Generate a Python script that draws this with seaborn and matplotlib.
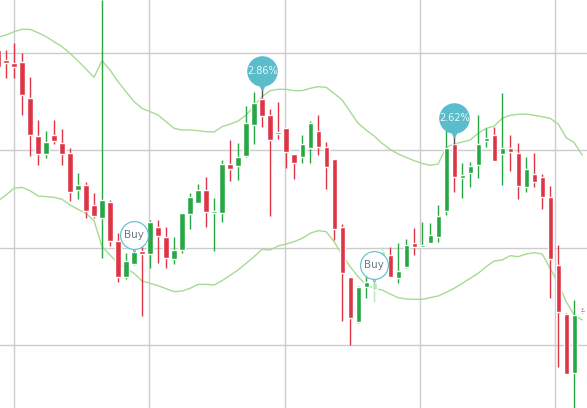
import matplotlib
matplotlib.use("Agg")
import matplotlib.pyplot as plt
import matplotlib.transforms as mtransforms
import seaborn as sns
import numpy as np
import pandas as pd

# values (screen-y of a 3x zoom), turned into prices below
opens = [150, 180, 190, 186, 295, 407, 461, 405, 430, 458, 569, 555, 615, 654, 606, 722, 831, 793, 752, 762, 682, 710, 777, 750, 642, 608,
         570, 638, 640, 493, 498, 468, 375, 297, 345, 397, 385, 463, 472, 443, 393, 441, 478, 682, 832, 965, 862, 870, 795, 765,
         833, 800, 730, 742, 730, 712, 632, 432, 535, 518, 496, 422, 405, 463, 445, 458, 562, 522, 532, 590, 795, 942, 1120, 930]
closes = [200, 188, 200, 284, 405, 463, 426, 423, 461, 575, 555, 634, 647, 600, 724, 832, 783, 755, 762, 665, 707, 775, 750, 638, 590, 570,
          636, 633, 492, 506, 472, 368, 310, 347, 421, 403, 457, 488, 432, 368, 440, 500, 687, 818, 953, 861, 845, 845, 752, 832,
          813, 735, 740, 735, 706, 648, 445, 530, 525, 498, 432, 415, 482, 443, 455, 557, 508, 545, 592, 778, 937, 1123, 945, 936]
highs = [140, 150, 128, 158, 232, 360, 393, 360, 387, 444, 519, 546, 580, 0, 600, 700, 758, 748, 742, 660, 660, 680, 712, 638, 578, 552,
         530, 595, 480, 420, 430, 318, 276, 290, 326, 306, 385, 462, 405, 362, 345, 425, 478, 672, 832, 858, 826, 780, 740, 740,
         730, 716, 685, 665, 670, 615, 320, 432, 490, 487, 346, 385, 380, 280, 405, 428, 472, 460, 522, 558, 735, 940, 900, 925]
lows = [207, 235, 233, 346, 468, 495, 474, 433, 496, 603, 596, 655, 655, 773, 738, 845, 838, 795, 948, 805, 790, 803, 792, 760, 687, 608,
        680, 752, 665, 542, 540, 472, 433, 382, 648, 418, 505, 538, 488, 488, 466, 568, 720, 962, 1036, 968, 895, 905, 800, 832,
        850, 803, 765, 742, 730, 727, 645, 575, 595, 560, 535, 442, 482, 555, 512, 597, 575, 560, 627, 895, 1100, 1123, 1224, 940]
upper = [112, 105, 95, 88, 88, 98, 110, 125, 140, 160, 183, 207, 232, 182, 210, 245, 275, 305, 325, 335, 345, 365, 385, 390, 390, 392,
         395, 396, 380, 372, 363, 345, 318, 290, 272, 268, 268, 272, 272, 265, 260, 262, 280, 300, 335, 370, 390, 408, 430, 448,
         462, 472, 482, 490, 496, 492, 442, 432, 426, 420, 400, 385, 378, 355, 346, 343, 342, 346, 350, 355, 372, 413, 428, 465]
lower = [603, 585, 565, 562, 572, 588, 590, 592, 598, 615, 628, 640, 662, 740, 765, 790, 805, 820, 843, 850, 857, 866, 875, 873, 865, 853,
         853, 855, 842, 826, 810, 790, 770, 748, 750, 738, 732, 725, 715, 700, 692, 695, 725, 765, 800, 830, 855, 865, 870, 882,
         893, 897, 898, 898, 893, 888, 877, 865, 850, 835, 820, 800, 783, 780, 767, 770, 762, 758, 762, 805, 850, 905, 945, 960]
buy_bars = [17, 47]
gain_bars = {33: "2.86%", 57: "2.62%"}
faded_bars = [47, 48]


def to_price(v):
    return 1.40 - (np.asarray(v) / 3 - 53) / 973


df = pd.DataFrame({"i": np.arange(len(opens)), "open": to_price(opens), "close": to_price(closes),
                   "high": to_price(highs), "low": to_price(lows),
                   "upper": to_price(upper), "lower": to_price(lower)})

RED = "#dc3545"
GREEN = "#28a745"
BAND = "#a6db94"
TEAL = "#5bbccc"

sns.set_style("white")
fig = plt.figure(figsize=(5.87, 4.08), dpi=100)
ax = fig.add_axes([0, 0, 1, 1])

sns.lineplot(data=df, x="i", y="upper", ax=ax, color=BAND, lw=1)
sns.lineplot(data=df, x="i", y="lower", ax=ax, color=BAND, lw=1)

for _, r in df.iterrows():
    up = r["close"] > r["open"]
    c = GREEN if up else RED
    if int(r["i"]) in faded_bars:
        c = "#b8e6bd"
    ax.vlines(r["i"], r["low"], r["high"], color=c, lw=1, zorder=3)
    lo, hi = min(r["open"], r["close"]), max(r["open"], r["close"])
    ax.bar(r["i"], max(hi - lo, 0.0012), bottom=lo, width=0.65, color=c, zorder=4)

for b in buy_bars:
    anchor = df.loc[b, "close"] if df.loc[b, "close"] > df.loc[b, "open"] else df.loc[b, "open"]
    tr = mtransforms.offset_copy(ax.transData, fig=fig, x=0, y=17, units="dots")
    ax.plot(b, anchor, marker="v", ms=9, mfc="white", mec=TEAL, mew=0.8, transform=mtransforms.offset_copy(ax.transData, fig=fig, x=0, y=6, units="dots"), zorder=5)
    ax.plot(b, anchor, marker="o", ms=20, mfc="white", mec=TEAL, mew=0.8, transform=tr, zorder=6)
    ax.text(b, anchor, "Buy", transform=tr, ha="center", va="center", fontsize=7.5, color="#6c7a80", zorder=7)

for b, lab in gain_bars.items():
    anchor = df.loc[b, "high"]
    tr = mtransforms.offset_copy(ax.transData, fig=fig, x=0, y=26, units="dots")
    ax.vlines(b, anchor, anchor + 0.012, color="#555555", lw=1, zorder=5)
    ax.plot(b, anchor, marker="v", ms=10, color=TEAL, transform=mtransforms.offset_copy(ax.transData, fig=fig, x=0, y=14, units="dots"), zorder=5)
    ax.plot(b, anchor, marker="o", ms=21, color=TEAL, transform=tr, zorder=6)
    ax.text(b, anchor, lab, transform=tr, ha="center", va="center", fontsize=7, color="#e8f6f8", zorder=7)

ax.set_xlim(0.25, 73.6)
ax.set_ylim(to_price(1224), to_price(0))
ax.set_xticks([2, 18.9, 35.9, 52.75, 69.6])
ax.set_yticks([1.1, 1.2, 1.3, 1.4])
ax.grid(True, color="#cccccc", lw=1)
ax.set_axisbelow(True)
ax.tick_params(length=0, labelbottom=False, labelleft=False)
ax.set_xlabel("")
ax.set_ylabel("")
for s in ax.spines.values():
    s.set_visible(False)

fig.savefig("out.png", dpi=100)
